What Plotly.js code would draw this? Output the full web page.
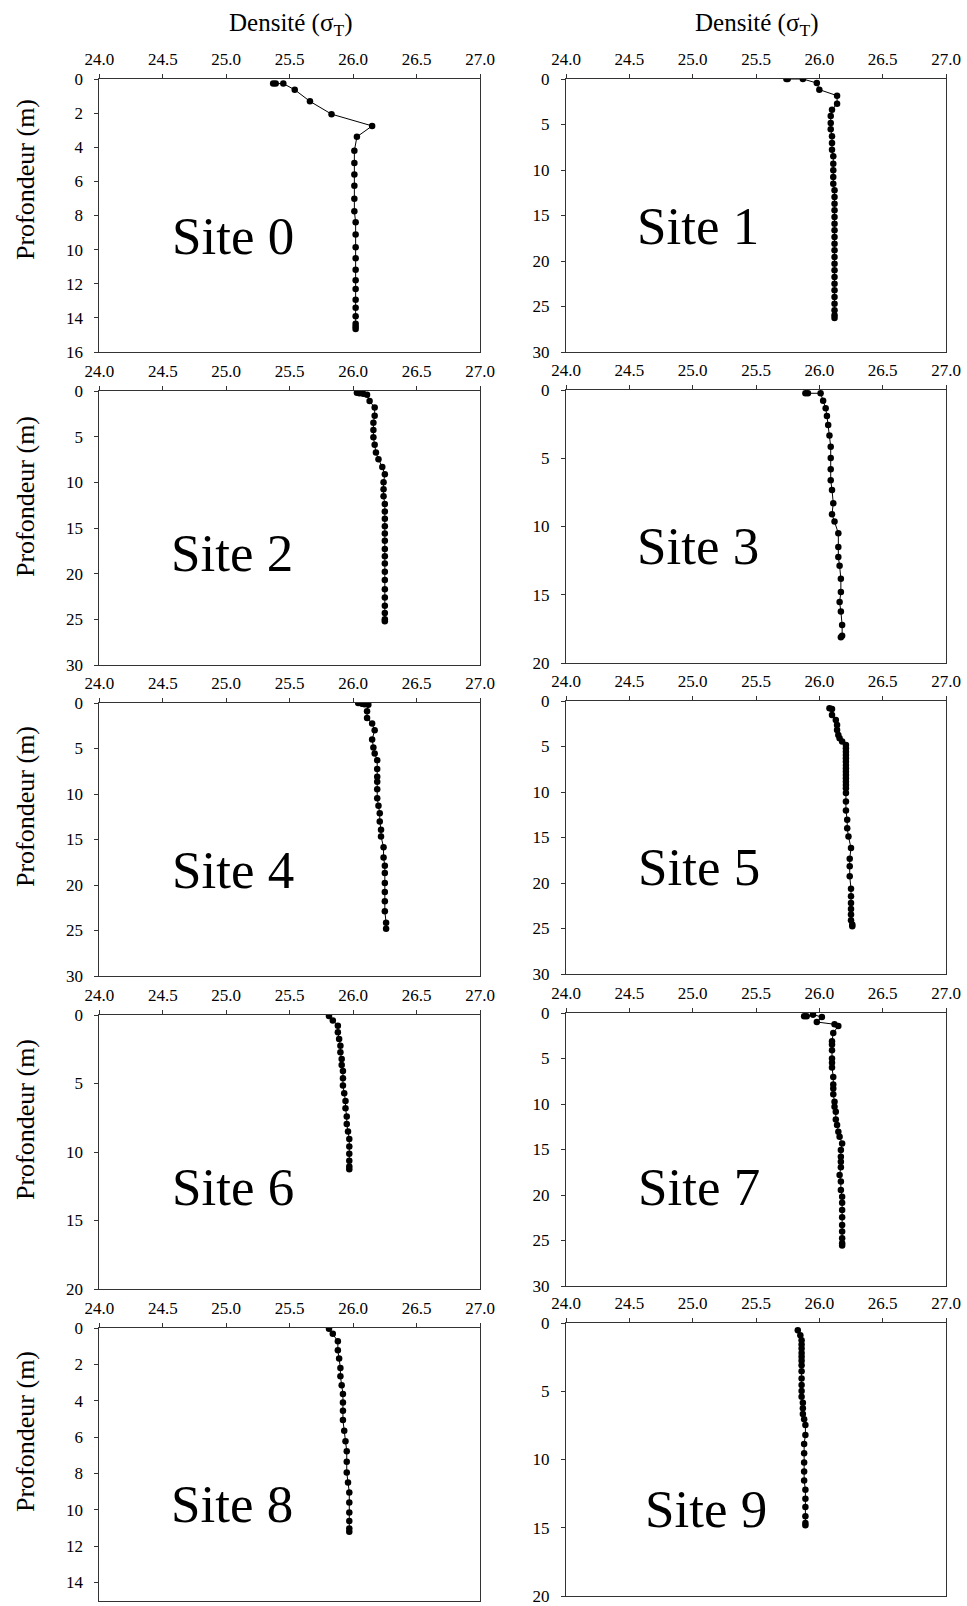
<!DOCTYPE html>
<html>
<head>
<meta charset="utf-8">
<script src="https://cdn.plot.ly/plotly-3.0.1.min.js"></script>
<style>html,body{margin:0;padding:0;background:#fff;}#chart{width:967px;height:1606px;}</style>
</head>
<body>
<div id="chart"></div>
<script>
// ---- Data (density sigma-T vs depth in m) ----
const siteNames = ["Site 0","Site 1","Site 2","Site 3","Site 4","Site 5","Site 6","Site 7","Site 8","Site 9"];
const depthMax = [16, 30, 30, 20, 30, 30, 20, 30, 15, 20];
const depthStep = [2, 5, 5, 5, 5, 5, 5, 5, 2, 5];
const xTicks = [24.0, 24.5, 25.0, 25.5, 26.0, 26.5, 27.0];
const xTitle = "Densité (σ<sub>T</sub>)";
const yTitle = "Profondeur (m)";

const site0_depth = [0.27,0.27,0.27,0.63,1.31,2.06,2.75,3.39,4.2,4.92,5.59,6.25,7.02,7.75,8.39,9.12,9.86,10.51,11.18,11.80,12.31,12.94,13.41,13.90,14.35,14.51,14.65];
const site0_sigma = [25.37,25.39,25.45,25.54,25.66,25.83,26.15,26.03,26.01,26.01,26.01,26.01,26.01,26.01,26.02,26.02,26.02,26.02,26.02,26.02,26.02,26.02,26.02,26.02,26.02,26.02,26.02];

const site1_depth = [0,0,0,0.44,1.17,1.83,2.71,3.37,4.07,4.84,5.53,6.30,7.03,7.77,8.50,9.30,10.04,10.77,11.50,12.23,12.97,13.70,14.43,15.16,15.90,16.63,17.36,18.10,18.83,19.56,20.29,21.03,21.76,22.49,23.22,23.96,24.69,25.42,25.97,26.26];
const site1_sigma = [25.74,25.75,25.87,25.98,26.00,26.14,26.14,26.10,26.09,26.09,26.09,26.10,26.10,26.10,26.11,26.11,26.11,26.11,26.11,26.12,26.12,26.12,26.12,26.12,26.12,26.12,26.12,26.12,26.12,26.12,26.12,26.12,26.12,26.12,26.12,26.12,26.12,26.12,26.12,26.12];

const site2_depth = [0.2,0.25,0.3,0.4,1.1,1.82,2.7,3.47,4.27,5.07,5.88,6.72,7.48,8.32,9.12,10.0,10.77,11.53,12.37,13.2,14.0,14.8,15.6,16.4,17.3,18.1,18.9,19.8,20.7,21.7,22.6,23.5,24.3,25.0,25.2];
const site2_sigma = [26.03,26.05,26.08,26.11,26.13,26.17,26.17,26.16,26.16,26.16,26.17,26.18,26.20,26.23,26.25,26.24,26.24,26.24,26.25,26.25,26.25,26.25,26.25,26.25,26.25,26.25,26.25,26.25,26.25,26.25,26.25,26.25,26.25,26.25,26.25];

const site3_depth = [0.24,0.24,0.24,0.78,1.34,1.9,2.56,3.34,4.15,4.98,5.80,6.61,7.32,8.29,9.1,9.63,10.49,11.51,12.24,12.88,13.83,14.8,15.54,16.22,17.22,18.0,18.12];
const site3_sigma = [25.89,25.91,26.01,26.03,26.05,26.06,26.07,26.08,26.09,26.09,26.09,26.09,26.10,26.11,26.10,26.12,26.15,26.15,26.15,26.16,26.17,26.17,26.16,26.17,26.18,26.18,26.17];

const site4_depth = [0,0.07,0.15,0.18,0.91,1.64,2.26,2.99,4.01,4.89,5.55,6.28,7.26,8.1,8.65,9.49,10.47,11.28,12.12,13.03,13.94,14.67,15.84,16.97,17.88,18.69,19.78,20.77,21.79,22.88,24.16,24.82];
const site4_sigma = [26.04,26.07,26.09,26.12,26.11,26.11,26.15,26.17,26.15,26.16,26.17,26.19,26.19,26.19,26.19,26.19,26.19,26.20,26.21,26.21,26.22,26.22,26.24,26.24,26.25,26.25,26.25,26.25,26.25,26.25,26.26,26.26];

const site5_depth = [0.8,0.88,1.54,2.08,2.63,3.18,3.73,4.1,4.46,4.83,5.2,5.57,5.94,6.3,6.67,7.04,7.41,7.77,8.14,8.5,8.87,9.24,9.6,10.1,11.04,12.03,13.05,13.97,14.88,16.16,17.33,18.17,19.27,20.62,21.46,22.19,22.85,23.47,24.1,24.57,24.75];
const site5_sigma = [26.08,26.10,26.10,26.13,26.14,26.14,26.15,26.16,26.18,26.21,26.21,26.21,26.21,26.21,26.21,26.21,26.21,26.21,26.21,26.21,26.21,26.21,26.21,26.21,26.21,26.21,26.22,26.22,26.23,26.25,26.24,26.24,26.24,26.25,26.25,26.25,26.25,26.25,26.25,26.26,26.26];

const site6_depth = [0.07,0.41,0.78,1.26,1.75,2.24,2.72,3.21,3.65,4.08,4.62,5.15,5.71,6.27,6.8,7.41,7.95,8.5,9.06,9.6,10.13,10.64,11.06,11.25];
const site6_sigma = [25.81,25.84,25.88,25.88,25.89,25.90,25.90,25.91,25.91,25.92,25.92,25.92,25.93,25.94,25.94,25.95,25.95,25.96,25.97,25.97,25.97,25.97,25.97,25.97];

const site7_depth = [0.37,0.37,0.18,0.44,0.99,1.24,1.43,2.19,3.11,3.47,4.1,5.0,5.48,6.0,7.02,7.86,8.3,8.92,9.76,10.31,10.86,11.7,12.32,13.05,13.6,14.33,15.06,15.8,16.34,16.96,17.8,18.53,19.45,20.18,20.84,21.64,22.45,23.29,24.02,24.75,25.3,25.56];
const site7_sigma = [25.88,25.90,25.95,26.02,25.98,26.12,26.15,26.11,26.10,26.10,26.10,26.10,26.10,26.10,26.11,26.11,26.11,26.11,26.12,26.12,26.13,26.13,26.14,26.15,26.16,26.18,26.17,26.17,26.17,26.17,26.16,26.17,26.17,26.18,26.18,26.18,26.18,26.18,26.18,26.18,26.18,26.18];

const site8_depth = [0.04,0.31,0.73,1.23,1.68,2.2,2.66,3.15,3.63,4.1,4.56,5.07,5.66,6.23,6.78,7.36,7.95,8.5,9.05,9.6,10.15,10.62,11.03,11.21];
const site8_sigma = [25.81,25.84,25.88,25.88,25.89,25.90,25.90,25.91,25.92,25.92,25.92,25.92,25.93,25.94,25.95,25.95,25.95,25.96,25.97,25.97,25.97,25.97,25.97,25.97];

const site9_depth = [0.54,0.9,1.27,1.58,1.87,2.19,2.48,2.77,3.09,3.53,4.06,4.55,4.99,5.4,5.84,6.25,6.67,7.06,7.47,8.2,8.86,9.54,10.22,10.88,11.53,12.21,12.87,13.48,14.16,14.65,14.82];
const site9_sigma = [25.83,25.85,25.86,25.86,25.86,25.86,25.86,25.86,25.86,25.86,25.86,25.86,25.86,25.86,25.87,25.87,25.87,25.88,25.89,25.89,25.88,25.88,25.88,25.88,25.88,25.89,25.89,25.89,25.89,25.89,25.89];

const allDepth = [site0_depth,site1_depth,site2_depth,site3_depth,site4_depth,site5_depth,site6_depth,site7_depth,site8_depth,site9_depth];
const allSigma = [site0_sigma,site1_sigma,site2_sigma,site3_sigma,site4_sigma,site5_sigma,site6_sigma,site7_sigma,site8_sigma,site9_sigma];

// ---- Layout geometry (pixels) ----
const W = 967, H = 1606;
const colX = [[99.3, 480], [566, 946]];
const rowsLeft  = [[79, 352], [391, 665], [703, 976], [1015, 1289], [1328, 1600.5]];
const rowsRight = [[79, 352], [390, 663], [701, 974], [1013, 1286], [1323, 1596]];
const labelPos = [[233,236],[698,226],[232,553],[698,546],[233,870],[699,867],[233,1187],[699,1187],[232,1504],[706,1509]];
const yTitleY = [180, 497, 807, 1120, 1432];

const font = "Liberation Serif";
const traces = [];
const layout = {
  width: W, height: H,
  margin: {l:0, r:0, t:0, b:0},
  paper_bgcolor: "#fff", plot_bgcolor: "#fff",
  showlegend: false,
  font: {family: font, color: "#000"},
  annotations: []
};

for (let i = 0; i < 10; i++) {
  const col = i % 2, row = Math.floor(i / 2);
  const r = col === 0 ? rowsLeft[row] : rowsRight[row];
  const xs = i === 0 ? "" : String(i + 1);
  traces.push({
    x: allSigma[i], y: allDepth[i],
    xaxis: "x" + xs, yaxis: "y" + xs,
    mode: "lines+markers", type: "scatter",
    line: {color: "#000", width: 1},
    marker: {color: "#000", size: 6.5},
    hoverinfo: "skip"
  });
  const yticks = [];
  for (let v = 0; v <= depthMax[i]; v += depthStep[i]) yticks.push(v);
  layout["xaxis" + xs] = {
    domain: [colX[col][0] / W, colX[col][1] / W],
    anchor: "y" + xs, side: "top",
    range: [24, 27], tickvals: xTicks, tickformat: ".1f",
    ticks: "outside", ticklen: 4, tickcolor: "#333",
    showline: true, linecolor: "#333", linewidth: 1, mirror: true,
    showgrid: false, zeroline: false,
    tickfont: {family: font, size: 17, color: "#000"},
    ticklabelstandoff: 2
  };
  layout["yaxis" + xs] = {
    domain: [1 - r[1] / H, 1 - r[0] / H],
    anchor: "x" + xs,
    range: [depthMax[i], 0], tickvals: yticks,
    ticks: "outside", ticklen: 4, tickcolor: "#333",
    showline: true, linecolor: "#333", linewidth: 1, mirror: true,
    showgrid: false, zeroline: false,
    tickfont: {family: font, size: 17, color: "#000"},
    ticklabelstandoff: 8
  };
  layout.annotations.push({
    xref: "paper", yref: "paper",
    x: labelPos[i][0] / W, y: 1 - labelPos[i][1] / H,
    xanchor: "center", yanchor: "middle",
    text: siteNames[i], showarrow: false,
    font: {family: font, size: 53, color: "#000"}
  });
}
// Axis titles
[290, 756].forEach(cx => {
  layout.annotations.push({
    xref: "paper", yref: "paper", x: cx / W, y: 1 - 25 / H,
    xanchor: "center", yanchor: "middle", showarrow: false,
    text: xTitle, font: {family: font, size: 25, color: "#000"}
  });
});
yTitleY.forEach(cy => {
  layout.annotations.push({
    xref: "paper", yref: "paper", x: 25 / W, y: 1 - cy / H,
    xanchor: "center", yanchor: "middle", showarrow: false, textangle: -90,
    text: yTitle, font: {family: font, size: 26, color: "#000"}
  });
});

Plotly.newPlot("chart", traces, layout, {staticPlot: true, displayModeBar: false});
</script>
</body>
</html>
